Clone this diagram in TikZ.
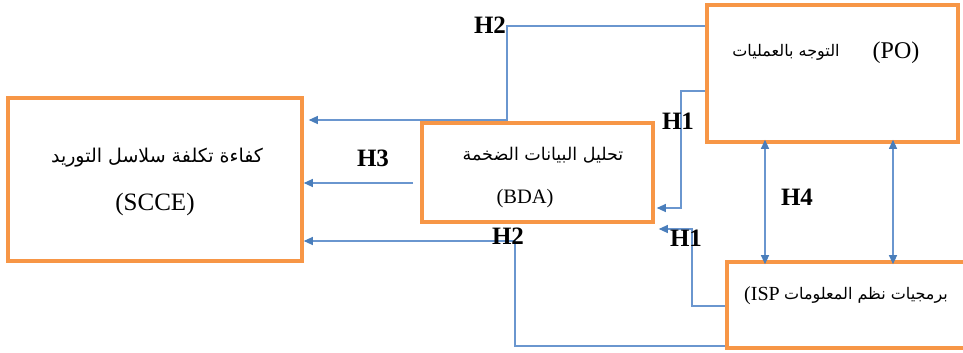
\documentclass[tikz,border=0pt]{standalone}
\usepackage{fontspec}
\setmainfont{Liberation Serif}
\newfontfamily\arabicfont[Script=Arabic]{DejaVu Sans}
\TeXXeTstate=1
\usetikzlibrary{arrows.meta}
\definecolor{boxorange}{HTML}{F79646}
\definecolor{linkblue}{HTML}{6A96CF}
\definecolor{tipblue}{HTML}{4A7EBB}
\tikzset{
  boxnode/.style={draw=boxorange, line width=3.6pt, rectangle, inner sep=0pt},
  link/.style={draw=linkblue, line width=1.1pt},
  linkarrow/.style={link, -{Triangle[length=9pt,width=8pt,color=tipblue]}},
  linkboth/.style={link, {Triangle[length=9pt,width=8pt,color=tipblue]}-{Triangle[length=9pt,width=8pt,color=tipblue]}},
  hlabel/.style={font=\fontsize{25}{28}\selectfont\bfseries, inner sep=0pt},
  txt/.style={inner sep=0pt},
  artxt/.style={inner sep=0pt}
}
\begin{document}
\begin{tikzpicture}[x=1pt,y=-1pt]
\useasboundingbox (0,0) rectangle (963,353);
% boxes
\node[boxnode, minimum width=294pt, minimum height=163pt] (scce) at (155,179.5) {};
\node[boxnode, minimum width=231pt, minimum height=99pt] (bda) at (537.5,172.5) {};
\node[boxnode, minimum width=251pt, minimum height=137pt] (po) at (832.5,73.5) {};
\node[boxnode, minimum width=240pt, minimum height=86pt] (isp) at (847,305) {};
% texts
\node[artxt, font=\fontsize{19}{22}\arabicfont] (scceAr) at (157,158) {\beginR كفاءة تكلفة سلاسل التوريد\endR};
\node[txt, font=\fontsize{25}{28}\selectfont] (scceEn) at (155,204) {(SCCE)};
\node[artxt, font=\fontsize{17.5}{20}\arabicfont] (bdaAr) at (543,155) {\beginR تحليل البيانات الضخمة\endR};
\node[txt, font=\fontsize{20.5}{24}\selectfont] (bdaEn) at (525,199) {(BDA)};
\node[artxt, font=\fontsize{16}{19}\arabicfont] (poAr) at (786,52) {\beginR التوجه بالعمليات\endR};
\node[txt, font=\fontsize{24}{28}\selectfont] (poEn) at (896,53) {(PO)};
\node[txt, font=\fontsize{20}{24}\selectfont, anchor=west] (ispEn) at (744,296) {(ISP};
\node[artxt, font=\fontsize{16}{19}\arabicfont, anchor=east] (ispAr) at (948,295) {\beginR برمجيات نظم المعلومات\endR};
% connectors
\coordinate (h2bend1) at (507,26);
\coordinate (h2bend2) at (507,120);
\draw[linkarrow] (po.west |- h2bend1) -- (h2bend1) -- (h2bend2) -- ([xshift=5pt]scce.east |- h2bend2);
\coordinate (h1bend1) at (681,91);
\coordinate (h1bend2) at (681,208);
\draw[linkarrow] (po.west |- h1bend1) -- (h1bend1) -- (h1bend2) -- ([xshift=2pt]bda.east |- h1bend2);
\coordinate (h1bend3) at (692,306);
\coordinate (h1bend4) at (692,229);
\draw[linkarrow] (isp.west |- h1bend3) -- (h1bend3) -- (h1bend4) -- ([xshift=4pt]bda.east |- h1bend4);
\coordinate (h2bend3) at (515,346);
\coordinate (h2bend4) at (515,241);
\draw[linkarrow] (isp.west |- h2bend3) -- (h2bend3) -- (h2bend4) -- (scce.east |- h2bend4);
\coordinate (h3start) at (413,183);
\draw[linkarrow] (h3start) -- (scce.east |- h3start);
\coordinate (h4a) at (765,0);
\coordinate (h4b) at (893,0);
\draw[linkboth] ([yshift=4pt]po.south -| h4a) -- ([yshift=-4pt]isp.north -| h4a);
\draw[linkboth] ([yshift=4pt]po.south -| h4b) -- ([yshift=-4pt]isp.north -| h4b);
% labels
\node[hlabel] (lh2a) at (490,25) {H2};
\node[hlabel] (lh1a) at (678,121) {H1};
\node[hlabel] (lh3) at (373,158) {H3};
\node[hlabel] (lh4) at (797,197) {H4};
\node[hlabel] (lh1b) at (686,238) {H1};
\node[hlabel] (lh2b) at (508,236) {H2};
\end{tikzpicture}
\end{document}
